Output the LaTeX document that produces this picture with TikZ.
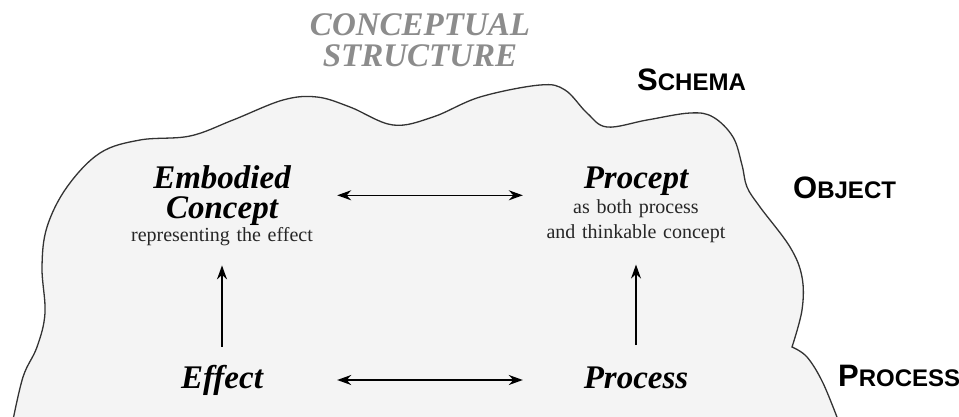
\documentclass[tikz,border=0pt]{standalone}
\usepackage{fontspec}
\setmainfont{Liberation Serif}
\setsansfont{Liberation Sans}
\usetikzlibrary{positioning,arrows.meta}

\definecolor{blobfill}{gray}{0.955}
\newcommand{\levelname}[2]{{\fontsize{31}{31}\selectfont #1}{\fontsize{24}{24}\selectfont #2}}

\begin{document}
\begin{tikzpicture}[x=1pt,y=1pt,
    concept/.style={font=\fontsize{33}{30}\selectfont\bfseries\itshape, align=center, inner sep=0pt, text width=190pt},
    note/.style={font=\fontsize{20}{25}\selectfont, text=black!85, align=center, inner sep=0pt, text width=190pt},
    title/.style={font=\fontsize{33}{31}\selectfont\bfseries\itshape, text=black!45, align=center, inner sep=0pt},
    level/.style={font=\sffamily\bfseries, inner sep=0pt, anchor=base west},
    arrow/.style={line width=1.5pt,->,>={Stealth[length=14pt,width=10pt]}},
    both/.style={line width=1.5pt,<->,>={Stealth[length=14pt,width=10pt]}}
]
    \useasboundingbox (0,0) rectangle (959,-416);

    % the cloud of the conceptual structure
    \draw[line width=1.3pt, draw=black!80, fill=blobfill]
        plot[smooth, tension=0.6] coordinates {(12,-425) (23,-377) (37,-347) (45,-313) (42,-267) (47,-227)
            (67,-187) (100,-153) (140,-140) (190,-136) (233,-120) (283,-100) (317,-97) (350,-107)
            (393,-125) (433,-117) (480,-97) (540,-85) (565,-90) (587,-113) (607,-127) (647,-120)
            (690,-113) (713,-117) (733,-137) (742,-165) (747,-187) (760,-207) (790,-247) (802,-277)
            (802,-310) (792,-347)}
        -- plot[smooth, tension=0.6] coordinates {(792,-347) (807,-357) (823,-383) (840,-425)}
        -- cycle;

    \node[title] (head) at (420,-40.5) {CONCEPTUAL\\STRUCTURE};

    \node[concept] (emb) at (222,-195.3) {Embodied\\Concept};
    \node[note] (embnote) at (222,-237) {representing the effect};
    \node[concept, anchor=base] (procept) at (636,-188) {Procept};
    \node[note] (proceptnote) at (636,-220.8) {as both process\\and thinkable concept};
    \node[concept, anchor=base] (effect) at (222,-388) {Effect};
    \node[concept, anchor=base] (process) at (636,-388) {Process};

    \node[level] (schema) at (637,-90) {\levelname{S}{CHEMA}};
    \node[level] (object) at (793,-198) {\levelname{O}{BJECT}};
    \node[level] (proclevel) at (838,-386) {\levelname{P}{ROCESS}};

    \draw[both, shorten <=20pt, shorten >=18pt] (emb.east) -- (emb.east -| procept.west);
    \draw[both, shorten <=20pt, shorten >=18pt] ([yshift=8pt]effect.base east) -- ([yshift=8pt]effect.base east -| process.west);
    \draw[arrow, shorten <=18pt, shorten >=19pt] (effect.north) -- (embnote.south);
    \draw[arrow, shorten <=21pt, shorten >=22pt] (process.north) -- (proceptnote.south);
\end{tikzpicture}
\end{document}
